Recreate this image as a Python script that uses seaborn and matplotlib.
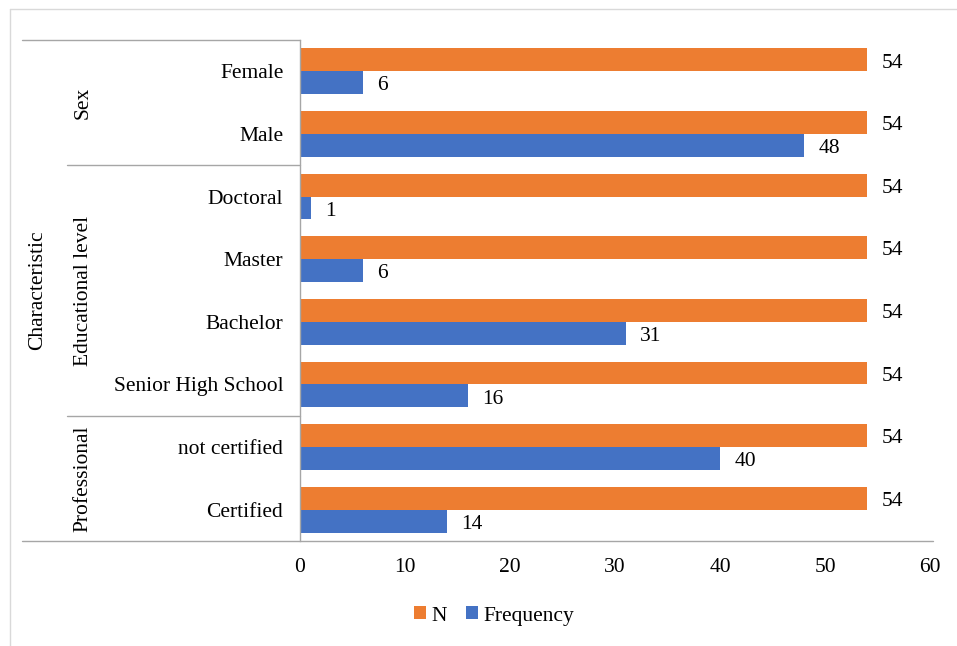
import numpy as np
import pandas as pd
import matplotlib
matplotlib.use("Agg")
import matplotlib.pyplot as plt
import matplotlib.transforms as mtransforms
from matplotlib.lines import Line2D
from matplotlib.patches import Patch
import seaborn as sns

# ---- data ----
categories = ["Female", "Male", "Doctoral", "Master", "Bachelor",
              "Senior High School", "not certified", "Certified"]
n_values = [54, 54, 54, 54, 54, 54, 54, 54]
freq_values = [6, 48, 1, 6, 31, 16, 40, 14]
groups = ["Sex", "Educational level", "Professional"]
group_sizes = [2, 4, 2]
series_names = ["N", "Frequency"]
x_ticks = [0, 10, 20, 30, 40, 50, 60]
axis_title = "Characteristic"

colors = {"N": "#ED7D31", "Frequency": "#4472C4"}
line_gray = "#A6A6A6"

sns.set_theme(style="white")
plt.rcParams["font.family"] = ["Liberation Serif", "DejaVu Serif"]
plt.rcParams["text.color"] = "black"
plt.rcParams["xtick.color"] = "black"
plt.rcParams["ytick.color"] = "black"
plt.rcParams["axes.labelcolor"] = "black"
FS = 15.5

df = pd.DataFrame({
    "category": categories * 2,
    "value": n_values + freq_values,
    "series": ["N"] * len(categories) + ["Frequency"] * len(categories),
})

fig = plt.figure(figsize=(9.57, 6.46), dpi=100)
W, H = 957, 646
ax = fig.add_axes([300 / W, 1 - 541 / H, 630 / W, (541 - 40) / H])

sns.barplot(data=df, y="category", x="value", hue="series", order=categories,
            hue_order=series_names, palette=colors, orient="h", width=0.73,
            saturation=1, ax=ax, legend=False, linewidth=0, edgecolor="none")

PAD = 10.5
for cont in ax.containers:
    texts = ax.bar_label(cont, padding=PAD, fontsize=FS, color="black")
    for t in texts:
        t.xyann = (PAD, -2.3)

ax.set_xlim(0, 60)
ax.set_ylim(len(categories) - 0.5, -0.5)
ax.set_xticks(x_ticks)
ax.set_xticklabels([str(t) for t in x_ticks], fontsize=FS)
ax.tick_params(axis="x", length=0, pad=12, labelcolor="black")
ax.tick_params(axis="y", length=0, pad=12, labelsize=FS, labelcolor="black")
ax.set_xlabel("")
ax.set_ylabel("")
for s in ["top", "right", "bottom"]:
    ax.spines[s].set_visible(False)
ax.spines["left"].set_color(line_gray)
ax.spines["left"].set_linewidth(1)

tr = mtransforms.blended_transform_factory(ax.transAxes, ax.transData)
x_far = (22 - 300) / 630
x_mid = (67 - 300) / 630
# top and bottom lines of the category tree
ax.add_line(Line2D([x_far, 0], [-0.5, -0.5], transform=tr, color=line_gray,
                   lw=1, clip_on=False))
ax.add_line(Line2D([x_far, (933 - 300) / 630], [len(categories) - 0.5] * 2,
                   transform=tr, color=line_gray, lw=1, clip_on=False))
# group separators and group labels
start = 0
for g, size in zip(groups, group_sizes):
    end = start + size
    if end < len(categories):
        ax.add_line(Line2D([x_mid, 0], [end - 0.5, end - 0.5], transform=tr,
                           color=line_gray, lw=1, clip_on=False))
    ax.text((83 - 300) / 630, (start + end - 1) / 2, g, transform=tr,
            rotation=90, ha="center", va="center", fontsize=FS, color="black")
    start = end
ax.text((38 - 300) / 630, (len(categories) - 1) / 2, axis_title, transform=tr,
        rotation=90, ha="center", va="center", fontsize=FS, color="black")

# legend
handles = [Patch(facecolor=colors[s], edgecolor="none", label=s) for s in series_names]
fig.legend(handles=handles, loc="center", bbox_to_anchor=(494 / W, 1 - 616 / H),
           ncol=2, frameon=False, fontsize=FS, handlelength=0.55, handleheight=0.55,
           handletextpad=0.25, columnspacing=0.9, labelcolor="black")

# outer border (cropped)
fig.add_artist(Line2D([10 / W, 10 / W], [0, 1 - 9 / H], transform=fig.transFigure,
                      color="#D9D9D9", lw=1))
fig.add_artist(Line2D([10 / W, 1], [1 - 9 / H, 1 - 9 / H], transform=fig.transFigure,
                      color="#D9D9D9", lw=1))

fig.savefig("out.png", dpi=100, facecolor="white")
